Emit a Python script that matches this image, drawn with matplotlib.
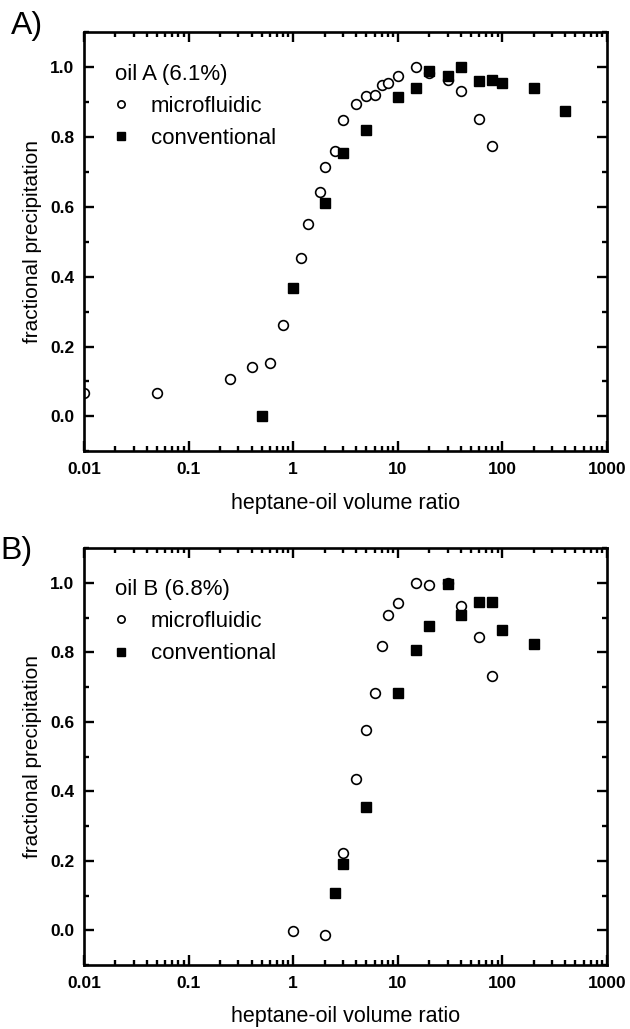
import matplotlib
matplotlib.use("Agg")
import matplotlib.pyplot as plt
from matplotlib.ticker import LogLocator, MultipleLocator, FixedLocator, FixedFormatter

plt.rcParams['font.family'] = ['Liberation Sans', 'DejaVu Sans']

# oil A
a_micro_x = [0.01, 0.05, 0.25, 0.4, 0.6, 0.8, 1.2, 1.4, 1.8, 2, 2.5, 3, 4, 5, 6, 7, 8, 10, 15, 20, 30, 40, 60, 80]
a_micro_y = [0.067, 0.066, 0.107, 0.14, 0.154, 0.263, 0.453, 0.552, 0.643, 0.715, 0.759, 0.848, 0.896, 0.917,
             0.922, 0.948, 0.956, 0.974, 1.0, 0.984, 0.965, 0.933, 0.853, 0.774]
a_conv_x = [0.5, 1, 2, 3, 5, 10, 15, 20, 30, 40, 60, 80, 100, 200, 400]
a_conv_y = [0.0, 0.367, 0.611, 0.755, 0.821, 0.916, 0.942, 0.99, 0.974, 1.0, 0.96, 0.963, 0.955, 0.94, 0.874]

# oil B
b_micro_x = [1, 2, 3, 4, 5, 6, 7, 8, 10, 15, 20, 30, 40, 60, 80]
b_micro_y = [-0.001, -0.015, 0.223, 0.435, 0.576, 0.683, 0.819, 0.908, 0.942, 0.999, 0.995, 1.0, 0.934, 0.843, 0.733]
b_conv_x = [2.5, 3, 5, 10, 15, 20, 30, 40, 60, 80, 100, 200]
b_conv_y = [0.107, 0.19, 0.355, 0.683, 0.807, 0.877, 0.996, 0.908, 0.946, 0.944, 0.863, 0.825]

x_ticks = [0.01, 0.1, 1, 10, 100, 1000]
x_ticklabels = ['0.01', '0.1', '1', '10', '100', '1000']
y_ticks = [0.0, 0.2, 0.4, 0.6, 0.8, 1.0]
y_ticklabels = ['0.0', '0.2', '0.4', '0.6', '0.8', '1.0']

panels = [
    ('A)', 'oil A (6.1%)', a_micro_x, a_micro_y, a_conv_x, a_conv_y),
    ('B)', 'oil B (6.8%)', b_micro_x, b_micro_y, b_conv_x, b_conv_y),
]

fig = plt.figure(figsize=(6.3, 10.29), dpi=100)
rects = [[0.1333, 0.5615, 0.830, 0.407], [0.1333, 0.0622, 0.830, 0.4052]]
label_pos = [(0.017, 0.975), (0.001, 0.465)]

for rect, lp, (tag, title, mx, my, cx, cy) in zip(rects, label_pos, panels):
    ax = fig.add_axes(rect)
    ax.plot(mx, my, 'o', mfc='white', mec='black', mew=1.2, ms=7, ls='none', label='microfluidic')
    ax.plot(cx, cy, 's', color='black', ms=7, ls='none', label='conventional')
    ax.set_xscale('log')
    ax.set_xlim(0.01, 1000)
    ax.set_ylim(-0.1, 1.1)

    ax.xaxis.set_major_locator(FixedLocator(x_ticks))
    ax.xaxis.set_major_formatter(FixedFormatter(x_ticklabels))
    ax.xaxis.set_minor_locator(LogLocator(base=10, subs=range(2, 10)))
    ax.yaxis.set_major_locator(FixedLocator(y_ticks))
    ax.yaxis.set_major_formatter(FixedFormatter(y_ticklabels))
    ax.yaxis.set_minor_locator(MultipleLocator(0.1))

    ax.tick_params(which='both', direction='in', top=True, right=True, width=1.7)
    ax.tick_params(which='major', length=7.5, labelsize=12.5)
    ax.tick_params(which='minor', length=3.8)
    ax.tick_params(axis='x', which='major', pad=8)
    ax.tick_params(axis='y', which='major', pad=7)
    for lab in ax.get_xticklabels() + ax.get_yticklabels():
        lab.set_fontweight('bold')
    for sp in ax.spines.values():
        sp.set_linewidth(1.9)

    ax.set_xlabel('heptane-oil volume ratio', fontsize=15.5, labelpad=11)
    ax.set_ylabel('fractional precipitation', fontsize=15, labelpad=6)

    ax.legend(title=title, loc='upper left', frameon=False, fontsize=16, title_fontsize=16,
              alignment='left', handletextpad=1.1, handlelength=0.5, labelspacing=0.5,
              borderaxespad=1.0, markerscale=0.75)

    fig.text(lp[0], lp[1], tag, fontsize=23, ha='left', va='center')

fig.savefig('out.png', dpi=100)
